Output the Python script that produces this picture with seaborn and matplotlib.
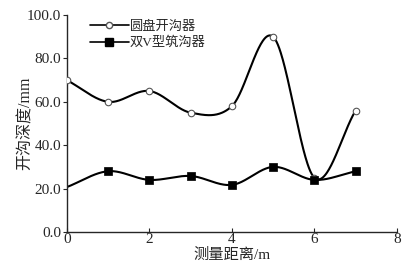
import numpy as np
import pandas as pd
import seaborn as sns
import matplotlib
matplotlib.use("Agg")
import matplotlib.pyplot as plt
from matplotlib.lines import Line2D

x_vals = [0, 1, 2, 3, 4, 5, 6, 7]
disc = [70, 60, 65, 55, 58, 90, 25, 56]
doublev = [20.7, 28, 24, 25.8, 21.7, 30, 24, 28]
series_names = ["圆盘开沟器", "双V型筑沟器"]
x_ticks = [0, 2, 4, 6, 8]
y_ticks = [0, 20, 40, 60, 80, 100]


def cardinal_spline(x, y, n=60):
    """Catmull-Rom style smooth curve through the data points (rendering only)."""
    x = np.asarray(x, float); y = np.asarray(y, float)
    k = len(x)
    m = np.empty(k)
    m[1:-1] = (y[2:] - y[:-2]) / (x[2:] - x[:-2])
    m[0] = (y[1] - y[0]) / (x[1] - x[0])
    m[-1] = (y[-1] - y[-2]) / (x[-1] - x[-2])
    xs_all, ys_all = [], []
    for i in range(k - 1):
        h = x[i + 1] - x[i]
        t = np.linspace(0, 1, n, endpoint=(i == k - 2))
        h00 = 2 * t**3 - 3 * t**2 + 1
        h10 = t**3 - 2 * t**2 + t
        h01 = -2 * t**3 + 3 * t**2
        h11 = t**3 - t**2
        xs_all.append(x[i] + t * h)
        ys_all.append(h00 * y[i] + h10 * h * m[i] + h01 * y[i + 1] + h11 * h * m[i + 1])
    return np.concatenate(xs_all), np.concatenate(ys_all)


sns.set_style("ticks")
plt.rcParams["font.family"] = ["Liberation Serif", "Noto Sans CJK SC", "DejaVu Sans"]
plt.rcParams["axes.unicode_minus"] = False

fig = plt.figure(figsize=(4.13, 2.70), dpi=100)
ax = fig.add_axes([0.162, 0.141, 0.799, 0.803])

for vals in (disc, doublev):
    xs, ys = cardinal_spline(x_vals, vals)
    sns.lineplot(x=xs, y=ys, ax=ax, color="black", lw=1.5, sort=False)

sns.scatterplot(x=x_vals, y=disc, ax=ax, marker="o", s=22, facecolor="white",
                edgecolor="#555555", linewidth=0.8, zorder=3)
sns.scatterplot(x=x_vals[1:], y=doublev[1:], ax=ax, marker="s", s=40, color="black",
                edgecolor="black", zorder=4)

ax.set_xlim(0, 8)
ax.set_ylim(0, 100)
ax.set_xticks(x_ticks)
ax.set_yticks(y_ticks)
ax.set_yticklabels([f"{v:.1f}" for v in y_ticks])
ax.tick_params(axis="x", direction="in", length=3, labelsize=11, pad=1)
ax.tick_params(axis="y", direction="out", length=3, labelsize=11, pad=1)
for s in ("top", "right"):
    ax.spines[s].set_visible(False)
for s in ("left", "bottom"):
    ax.spines[s].set_linewidth(1.0)
ax.set_xlabel("测量距离/m", fontsize=11, labelpad=1)
ax.set_ylabel("开沟深度/mm", fontsize=11.5)
ax.yaxis.set_label_coords(-0.1, 0.5)

handles = [
    Line2D([], [], color="black", lw=1.2, marker="o", markersize=4.5,
           markerfacecolor="white", markeredgecolor="#555555"),
    Line2D([], [], color="black", lw=1.2, marker="s", markersize=6,
           markerfacecolor="black"),
]
ax.legend(handles, series_names, loc="upper left", bbox_to_anchor=(0.055, 1.0),
          frameon=False, fontsize=9.5, handlelength=2.9, handletextpad=0.1,
          labelspacing=0.3, borderaxespad=0)

fig.savefig("out.png", dpi=100)
